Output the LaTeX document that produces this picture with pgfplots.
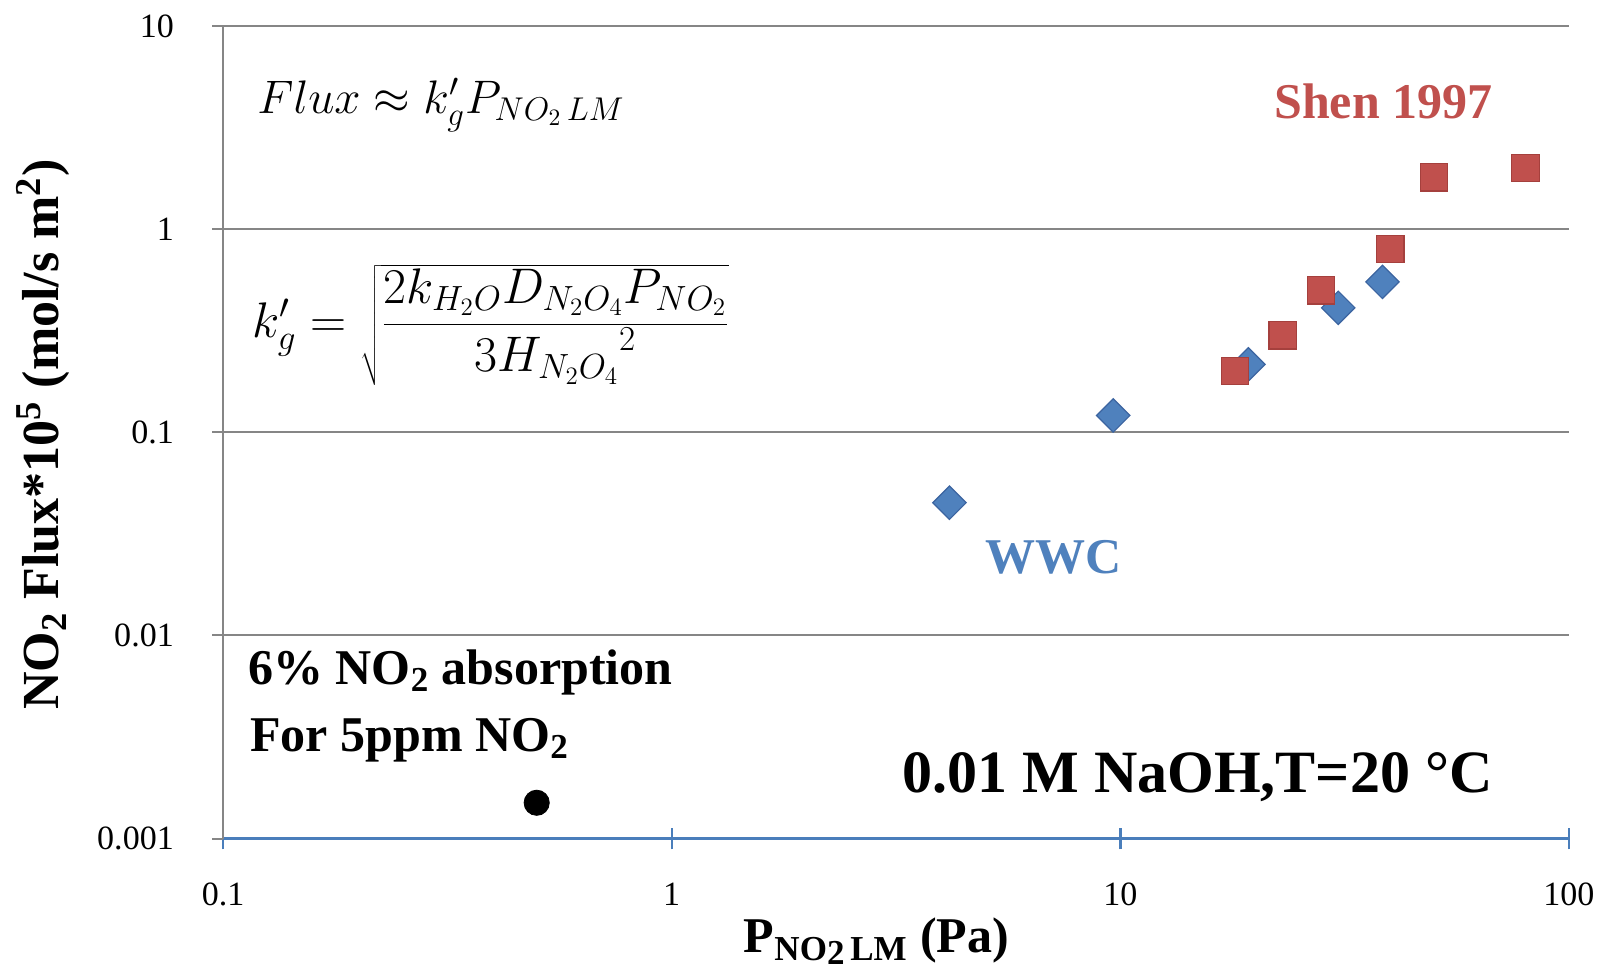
\RequirePackage{fix-cm}
\documentclass[border=0pt]{standalone}
\usepackage{pgfplots}
\pgfplotsset{compat=1.18}
\usepackage{fontspec}
\setmainfont{Liberation Serif}
\definecolor{serblue}{HTML}{4F81BD}
\definecolor{serblueedge}{HTML}{3B64A0}
\definecolor{serred}{HTML}{C0504D}
\definecolor{serrededge}{HTML}{A5403D}
\definecolor{axblue}{HTML}{4A7EBB}
\definecolor{gridgray}{HTML}{868686}
\begin{document}
\begin{tikzpicture}
\begin{axis}[
  scale only axis, width=672.5pt, height=406pt,
  xmode=log, ymode=log,
  xmin=0.1, xmax=100, ymin=0.001, ymax=10,
  axis x line=bottom, axis y line=left,
  axis line style={-},
  x axis line style={draw=axblue, line width=1.2pt},
  y axis line style={draw=gridgray, line width=1pt},
  ymajorgrids, major grid style={draw=gridgray, line width=1pt},
  xtick={0.1,1,10,100}, xticklabels={0.1,1,10,100},
  ytick={0.001,0.01,0.1,1,10}, yticklabels={0.001,0.01,0.1,1,10},
  xminorticks=false, yminorticks=false,
  tick align=center, major tick length=11pt,
  x tick style={draw=axblue, line width=1.2pt},
  y tick style={draw=gridgray, line width=1pt},
  /pgf/number format/assume math mode=true,
  xticklabel style={font=\fontsize{17}{20}\selectfont, anchor=base, yshift=-28pt},
  yticklabel style={font=\fontsize{17}{20}\selectfont, anchor=east, inner sep=0pt, xshift=-19pt},
  every axis x label/.style={at={(rel axis cs:0.4855,0)}, yshift=-57pt, anchor=base},
  every axis y label/.style={at={(rel axis cs:0,0.497)}, xshift=-90pt, rotate=90, anchor=center},
  xlabel={\fontsize{25}{30}\selectfont\bfseries P\textsubscript{NO\raisebox{-0.25ex}{2}\,LM} (Pa)},
  ylabel={\fontsize{26}{30}\selectfont\bfseries NO\textsubscript{2} Flux*10\textsuperscript{5} (mol/s m\textsuperscript{2})},
  clip=false,
]
% WWC
\addplot[only marks, mark=square*, mark size=5.9pt,
  mark options={rotate=45, fill=serblue, draw=serblueedge, line width=0.6pt}]
  coordinates {(4.16,0.045) (9.64,0.121) (19.3,0.216) (30.6,0.41) (38.4,0.55)};
% Shen 1997
\addplot[only marks, mark=square*, mark size=6.8pt,
  mark options={fill=serred, draw=serrededge, line width=0.6pt}]
  coordinates {(18,0.2) (23,0.3) (28,0.5) (40,0.8) (50,1.8) (80,2.0)};
% 5 ppm point
\addplot[only marks, mark=*, mark size=6.3pt, mark options={fill=black, draw=black}]
  coordinates {(0.5,0.0015)};

\node[anchor=base west, inner sep=0pt] at (rel axis cs:0.0252,0.892)
  {\fontsize{23.5}{28}\selectfont $Flux \approx k'_g P_{NO_2\,LM}$};
\node[anchor=west, inner sep=0pt] at (rel axis cs:0.0214,0.632)
  {\fontsize{25}{30}\selectfont $k'_g = \sqrt{\displaystyle\frac{2k_{H_2O}D_{N_2O_4}P_{NO_2}}{3{H_{N_2O_4}}^{2}}}$};
\node[anchor=base east, inner sep=0pt, text=serred] at (rel axis cs:0.9435,0.886)
  {\fontsize{25}{30}\selectfont\bfseries Shen 1997};
\node[anchor=base west, inner sep=0pt, text=serblue] at (rel axis cs:0.566,0.3266)
  {\fontsize{25}{30}\selectfont\bfseries WWC};
\node[anchor=base west, inner sep=0pt] at (rel axis cs:0.0183,0.1899)
  {\fontsize{25}{30}\selectfont\bfseries 6\% NO\textsubscript{2} absorption};
\node[anchor=base west, inner sep=0pt] at (rel axis cs:0.0198,0.1076)
  {\fontsize{25}{30}\selectfont\bfseries For 5ppm NO\textsubscript{2}};
\node[anchor=base east, inner sep=0pt] at (rel axis cs:0.9435,0.057)
  {\fontsize{30}{36}\selectfont\bfseries 0.01 M NaOH,T=20 \textdegree C};

\coordinate (ll) at (rel axis cs:0,0);
\coordinate (ur) at (rel axis cs:1,1);
\end{axis}
\pgfresetboundingbox
\path[use as bounding box] ([shift={(-111.5pt,-65.5pt)}]ll) rectangle ([shift={(21.5pt,13pt)}]ur);
\end{tikzpicture}
\end{document}
